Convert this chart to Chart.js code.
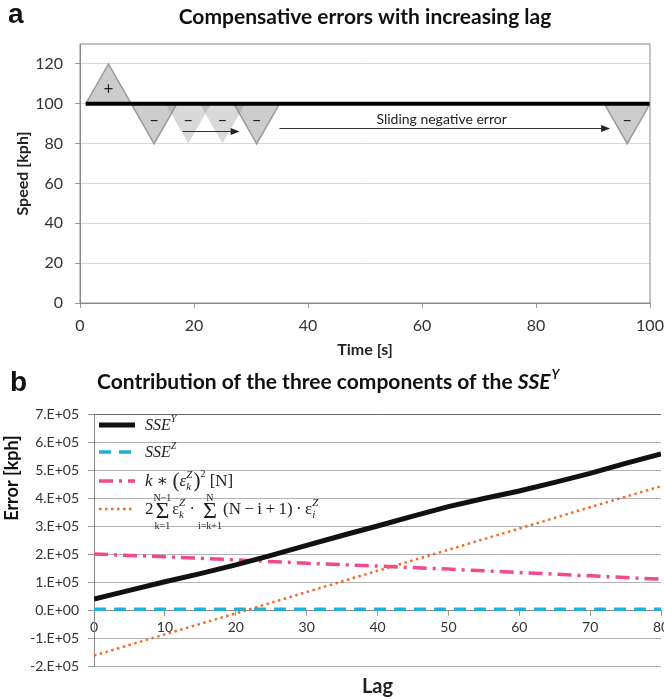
<!DOCTYPE html>
<html lang="en">
<head>
<meta charset="UTF-8">
<title>Compensative errors and SSE components</title>
<script src="https://cdn.jsdelivr.net/npm/chart.js"></script>
<style>
  body { margin: 0; background: #fff; }
  #wrap { position: relative; width: 664px; height: 700px; }
  canvas { position: absolute; left: 0; }
  #chartA { top: 0; }
  #chartB { top: 362px; }
</style>
</head>
<body>
<div id="wrap">
  <canvas id="chartA" width="664" height="362"></canvas>
  <canvas id="chartB" width="664" height="338"></canvas>
</div>
<script>
Chart.defaults.font.family = 'Lato, "Open Sans", sans-serif';
Chart.defaults.color = '#333';

// ---------- panel a: speed profile ----------
const refTime = [1, 100];
const refSpeed = [100, 100];
const triLeft = [1, 9, 15, 21, 27, 92];
const triApex = [5, 13, 19, 25, 31, 96];
const triRight = [9, 17, 23, 29, 35, 100];
const triPeak = [120, 80, 80, 80, 80, 80];
const triSign = ['+', '–', '–', '–', '–', '–'];
const signSpeed = [107, 91.5, 91.5, 91.5, 91.5, 91.5];
const triGhost = [false, false, true, true, false, false];
const arrowFrom = [18, 35];
const arrowTo = [28, 93];
const arrowSpeed = [86.5, 88];
const noteText = 'Sliding negative error';
const noteTime = 52;
const noteSpeed = 92;

// ---------- panel b: SSE components vs lag ----------
const lagFine = [0, 5, 10, 15, 20, 25, 30, 35, 40, 45, 50, 55, 60, 65, 70, 75, 80];
const sseY = [39000, 70000, 101000, 130000, 161000, 195000, 231000, 266000, 300000,
              335000, 369000, 398000, 425000, 456000, 488000, 524000, 557000];
const lagCoarse = [0, 10, 20, 30, 40, 50, 60, 70, 80];
const sseZ = [3000, 3000, 3000, 3000, 3000, 3000, 3000, 3000, 3000];
const kTerm = [200000, 190000, 179000, 167000, 157000, 146000, 134000, 122000, 110000];
const crossTerm = [-163000, -87000, -12000, 64000, 140000, 215000, 291000, 367000, 442000];

const serif = '"Liberation Serif", "DejaVu Serif", serif';

function pts(xs, ys) {
  return xs.map((x, i) => ({ x: x, y: ys[i] }));
}

// draws a run of text pieces; handles sup/sub stacks and big sums
function drawRich(ctx, x, y, parts) {
  ctx.textBaseline = 'alphabetic';
  ctx.textAlign = 'left';
  parts.forEach(p => {
    if (p.sum) {
      ctx.font = '24px ' + serif;
      const ws = ctx.measureText('Σ').width;
      ctx.font = '10px ' + serif;
      const w = Math.max(ws, ctx.measureText(p.sum[0]).width, ctx.measureText(p.sum[1]).width);
      ctx.textAlign = 'center';
      ctx.fillText(p.sum[0], x + w / 2, y - 13);
      ctx.fillText(p.sum[1], x + w / 2, y + 15);
      ctx.font = '24px ' + serif;
      ctx.fillText('Σ', x + w / 2, y + 4);
      ctx.textAlign = 'left';
      x += w + 1;
    } else if (p.sup !== undefined) {
      ctx.font = 'italic 11px ' + serif;
      const w = Math.max(ctx.measureText(p.sup).width, ctx.measureText(p.sub || '').width);
      ctx.fillText(p.sup, x, y - 8);
      if (p.sub) ctx.fillText(p.sub, x, y + 4);
      x += w + 1;
    } else {
      ctx.font = p.f;
      ctx.fillText(p.t, x, y + (p.dy || 0));
      x += ctx.measureText(p.t).width;
    }
  });
  return x;
}

function arrow(ctx, x1, x2, y) {
  ctx.save();
  ctx.strokeStyle = '#333';
  ctx.fillStyle = '#222';
  ctx.lineWidth = 1;
  ctx.beginPath();
  ctx.moveTo(x1, y);
  ctx.lineTo(x2 - 6, y);
  ctx.stroke();
  ctx.beginPath();
  ctx.moveTo(x2, y);
  ctx.lineTo(x2 - 9, y - 3.5);
  ctx.lineTo(x2 - 9, y + 3.5);
  ctx.closePath();
  ctx.fill();
  ctx.restore();
}

const panelA = {
  id: 'panelA',
  afterDatasetsDraw(chart) {
    const { ctx, chartArea: a, scales: { x, y } } = chart;
    ctx.save();
    ctx.strokeStyle = '#8a8a8a';
    ctx.lineWidth = 1;
    ctx.strokeRect(a.left, a.top, a.right - a.left, a.bottom - a.top);

    ctx.fillStyle = '#222';
    ctx.font = '17px Lato';
    ctx.textAlign = 'center';
    ctx.textBaseline = 'middle';
    triSign.forEach((s, i) => {
      ctx.fillText(s, x.getPixelForValue(triApex[i]), y.getPixelForValue(signSpeed[i]));
    });
    arrowFrom.forEach((f, i) => {
      const py = Math.round(y.getPixelForValue(arrowSpeed[i])) + 0.5;
      arrow(ctx, x.getPixelForValue(f), x.getPixelForValue(arrowTo[i]), py);
    });
    ctx.textAlign = 'left';
    ctx.font = '14px Lato';
    ctx.fillText(noteText, x.getPixelForValue(noteTime), y.getPixelForValue(noteSpeed));
    ctx.restore();
  },
  afterDraw(chart) {
    const { ctx, chartArea: a } = chart;
    ctx.save();
    ctx.fillStyle = '#111';
    ctx.textBaseline = 'middle';
    ctx.font = 'bold 28px "Liberation Sans"';
    ctx.textAlign = 'left';
    ctx.fillText('a', 8, 15);
    ctx.font = 'bold 21px Lato';
    ctx.textAlign = 'center';
    ctx.fillText('Compensative errors with increasing lag', (a.left + a.right) / 2, 17);
    ctx.restore();
  }
};

const triSets = triLeft.map((l, i) => ({
  data: [{ x: l, y: 100 }, { x: triApex[i], y: triPeak[i] }, { x: triRight[i], y: 100 }],
  fill: { value: 100 },
  backgroundColor: triGhost[i] ? 'rgba(128,128,128,0.3)' : 'rgba(128,128,128,0.4)',
  borderColor: triGhost[i] ? 'rgba(0,0,0,0)' : '#9a9a9a',
  borderWidth: 1.5,
  pointRadius: 0,
  order: 1
}));

new Chart(document.getElementById('chartA'), {
  type: 'line',
  data: {
    datasets: [{
      data: pts(refTime, refSpeed),
      borderColor: '#000',
      borderWidth: 4,
      pointRadius: 0,
      fill: false,
      order: 0
    }].concat(triSets)
  },
  options: {
    responsive: false,
    animation: false,
    layout: { padding: { top: 44, right: 14, left: 0, bottom: 0 } },
    plugins: { legend: { display: false }, tooltip: { enabled: false } },
    scales: {
      x: {
        type: 'linear', min: 0, max: 100,
        ticks: { stepSize: 20, padding: 8, font: { size: 16 }, color: '#333' },
        grid: { drawOnChartArea: false, tickLength: 5, tickColor: '#999' },
        border: { color: '#888' },
        title: { display: true, text: 'Time [s]', font: { size: 16, weight: 'bold' }, color: '#222',
                 padding: { top: 2, bottom: 3 } },
        afterFit(s) { s.height = 59; s.paddingRight = 0; s.paddingLeft = 0; }
      },
      y: {
        min: 0, max: 130,
        ticks: { stepSize: 20, padding: 12, font: { size: 16 }, color: '#333' },
        afterBuildTicks(s) { s.ticks = s.ticks.filter(t => t.value <= 120); },
        grid: { color: '#d9d9d9', tickLength: 5, tickColor: '#999' },
        border: { color: '#888' },
        title: { display: true, text: 'Speed [kph]', font: { size: 16, weight: 'bold' }, color: '#222',
                 padding: { top: 13, bottom: 0 } },
        afterFit(s) { s.width = 80; }
      }
    }
  },
  plugins: [panelA]
});

// legend entries for panel b
const legendParts = [
  [{ t: 'SSE', f: 'italic 16px ' + serif }, { t: 'Y', f: 'italic 10px ' + serif, dy: -8 }],
  [{ t: 'SSE', f: 'italic 16px ' + serif }, { t: 'Z', f: 'italic 10px ' + serif, dy: -8 }],
  [{ t: 'k', f: 'italic 17px ' + serif }, { t: ' ∗ ', f: '17px ' + serif },
   { t: '(', f: '21px ' + serif, dy: 1 }, { t: 'ε', f: 'italic 17px ' + serif },
   { sup: 'Z', sub: 'k' }, { t: ')', f: '21px ' + serif, dy: 1 },
   { t: '2', f: '10px ' + serif, dy: -9 }, { t: ' [N]', f: '17px ' + serif }],
  [{ t: '2', f: '17px ' + serif }, { sum: ['N−1', 'k=1'] }, { t: 'ε', f: '16px ' + serif },
   { sup: 'Z', sub: 'k' }, { t: '\u2009·\u2009', f: '16px ' + serif }, { sum: ['N', 'i=k+1'] },
   { t: '(N\u2009−\u2009i\u2009+\u20091)\u2009·\u2009ε', f: '17px ' + serif }, { sup: 'Z', sub: 'i' }]
];
const legendRowOffset = [11, 38, 67, 95];

const panelB = {
  id: 'panelB',
  afterDatasetsDraw(chart) {
    const { ctx, chartArea: a } = chart;
    ctx.save();
    ctx.strokeStyle = '#666';
    ctx.lineWidth = 1;
    ctx.beginPath();
    ctx.moveTo(a.left, Math.round(a.top) + 0.5);
    ctx.lineTo(a.right, Math.round(a.top) + 0.5);
    ctx.stroke();

    chart.data.datasets.forEach((ds, i) => {
      const yy = a.top + legendRowOffset[i];
      ctx.save();
      ctx.strokeStyle = ds.borderColor;
      ctx.lineWidth = ds.borderWidth;
      ctx.setLineDash(ds.borderDash || []);
      ctx.beginPath();
      ctx.moveTo(a.left + 5, yy);
      ctx.lineTo(a.left + 41, yy);
      ctx.stroke();
      ctx.restore();
      ctx.fillStyle = '#222';
      drawRich(ctx, a.left + 51, yy + 5, legendParts[i]);
    });
    ctx.restore();
  },
  afterDraw(chart) {
    const { ctx } = chart;
    ctx.save();
    ctx.fillStyle = '#111';
    ctx.textBaseline = 'middle';
    ctx.textAlign = 'left';
    ctx.font = 'bold 28px "Liberation Sans"';
    ctx.fillText('b', 10, 21);
    ctx.font = 'bold 21px Lato';
    const head = 'Contribution of the three components of the ';
    ctx.fillText(head, 97, 20);
    let x = 97 + ctx.measureText(head).width;
    ctx.font = 'italic bold 21px Lato';
    ctx.fillText('SSE', x, 20);
    x += ctx.measureText('SSE').width + 1;
    ctx.font = 'italic bold 13px Lato';
    ctx.fillText('Y', x, 13);
    // y axis title
    ctx.translate(12, 116);
    ctx.rotate(-Math.PI / 2);
    ctx.textAlign = 'center';
    ctx.font = 'bold 18px Lato';
    ctx.fillText('Error [kph]', 0, 0);
    ctx.restore();
  }
};

new Chart(document.getElementById('chartB'), {
  type: 'line',
  data: {
    datasets: [
      { label: 'SSE Y', data: pts(lagFine, sseY), borderColor: '#111', borderWidth: 5,
        pointRadius: 0, fill: false, order: 0 },
      { label: 'SSE Z', data: pts(lagCoarse, sseZ), borderColor: '#22b0d4', borderWidth: 3.5,
        borderDash: [12, 8], pointRadius: 0, fill: false, order: 3 },
      { label: 'k term', data: pts(lagCoarse, kTerm), borderColor: '#ef4a8e', borderWidth: 3.5,
        borderDash: [14, 6, 3, 6], pointRadius: 0, fill: false, order: 2 },
      { label: 'cross term', data: pts(lagCoarse, crossTerm), borderColor: '#f26a2a', borderWidth: 2.5,
        borderDash: [2.5, 3.5], pointRadius: 0, fill: false, order: 1 }
    ]
  },
  options: {
    responsive: false,
    animation: false,
    layout: { padding: { top: 52, right: 3, left: 0, bottom: 0 } },
    plugins: { legend: { display: false }, tooltip: { enabled: false } },
    scales: {
      x: {
        type: 'linear', min: 0, max: 80, position: { y: 0 },
        ticks: { stepSize: 10, padding: 4, font: { size: 14 }, color: '#333' },
        grid: { drawOnChartArea: false, tickLength: 5, tickColor: '#999' },
        border: { color: '#888' },
        afterFit(s) { s.paddingRight = 0; s.paddingLeft = 0; }
      },
      x2: {
        type: 'linear', min: 0, max: 80, position: 'bottom',
        ticks: { display: false },
        grid: { display: false },
        border: { display: false },
        title: { display: true, text: 'Lag', font: { size: 20, weight: 'bold' }, color: '#222',
                 padding: { top: 0, bottom: 1 } },
        afterFit(s) { s.height = 34; s.paddingRight = 0; s.paddingLeft = 0; }
      },
      y: {
        min: -200000, max: 700000,
        ticks: {
          stepSize: 100000, padding: 9, font: { size: 14 }, color: '#333',
          callback: v => v === 0 ? '0.E+00' : (v < 0 ? '-' : '') + Math.round(Math.abs(v) / 100000) + '.E+05'
        },
        grid: { color: '#b3b3b3', tickLength: 6, tickColor: '#999' },
        border: { color: '#888' },
        afterFit(s) { s.width = 94; }
      }
    }
  },
  plugins: [panelB]
});
</script>
</body>
</html>
